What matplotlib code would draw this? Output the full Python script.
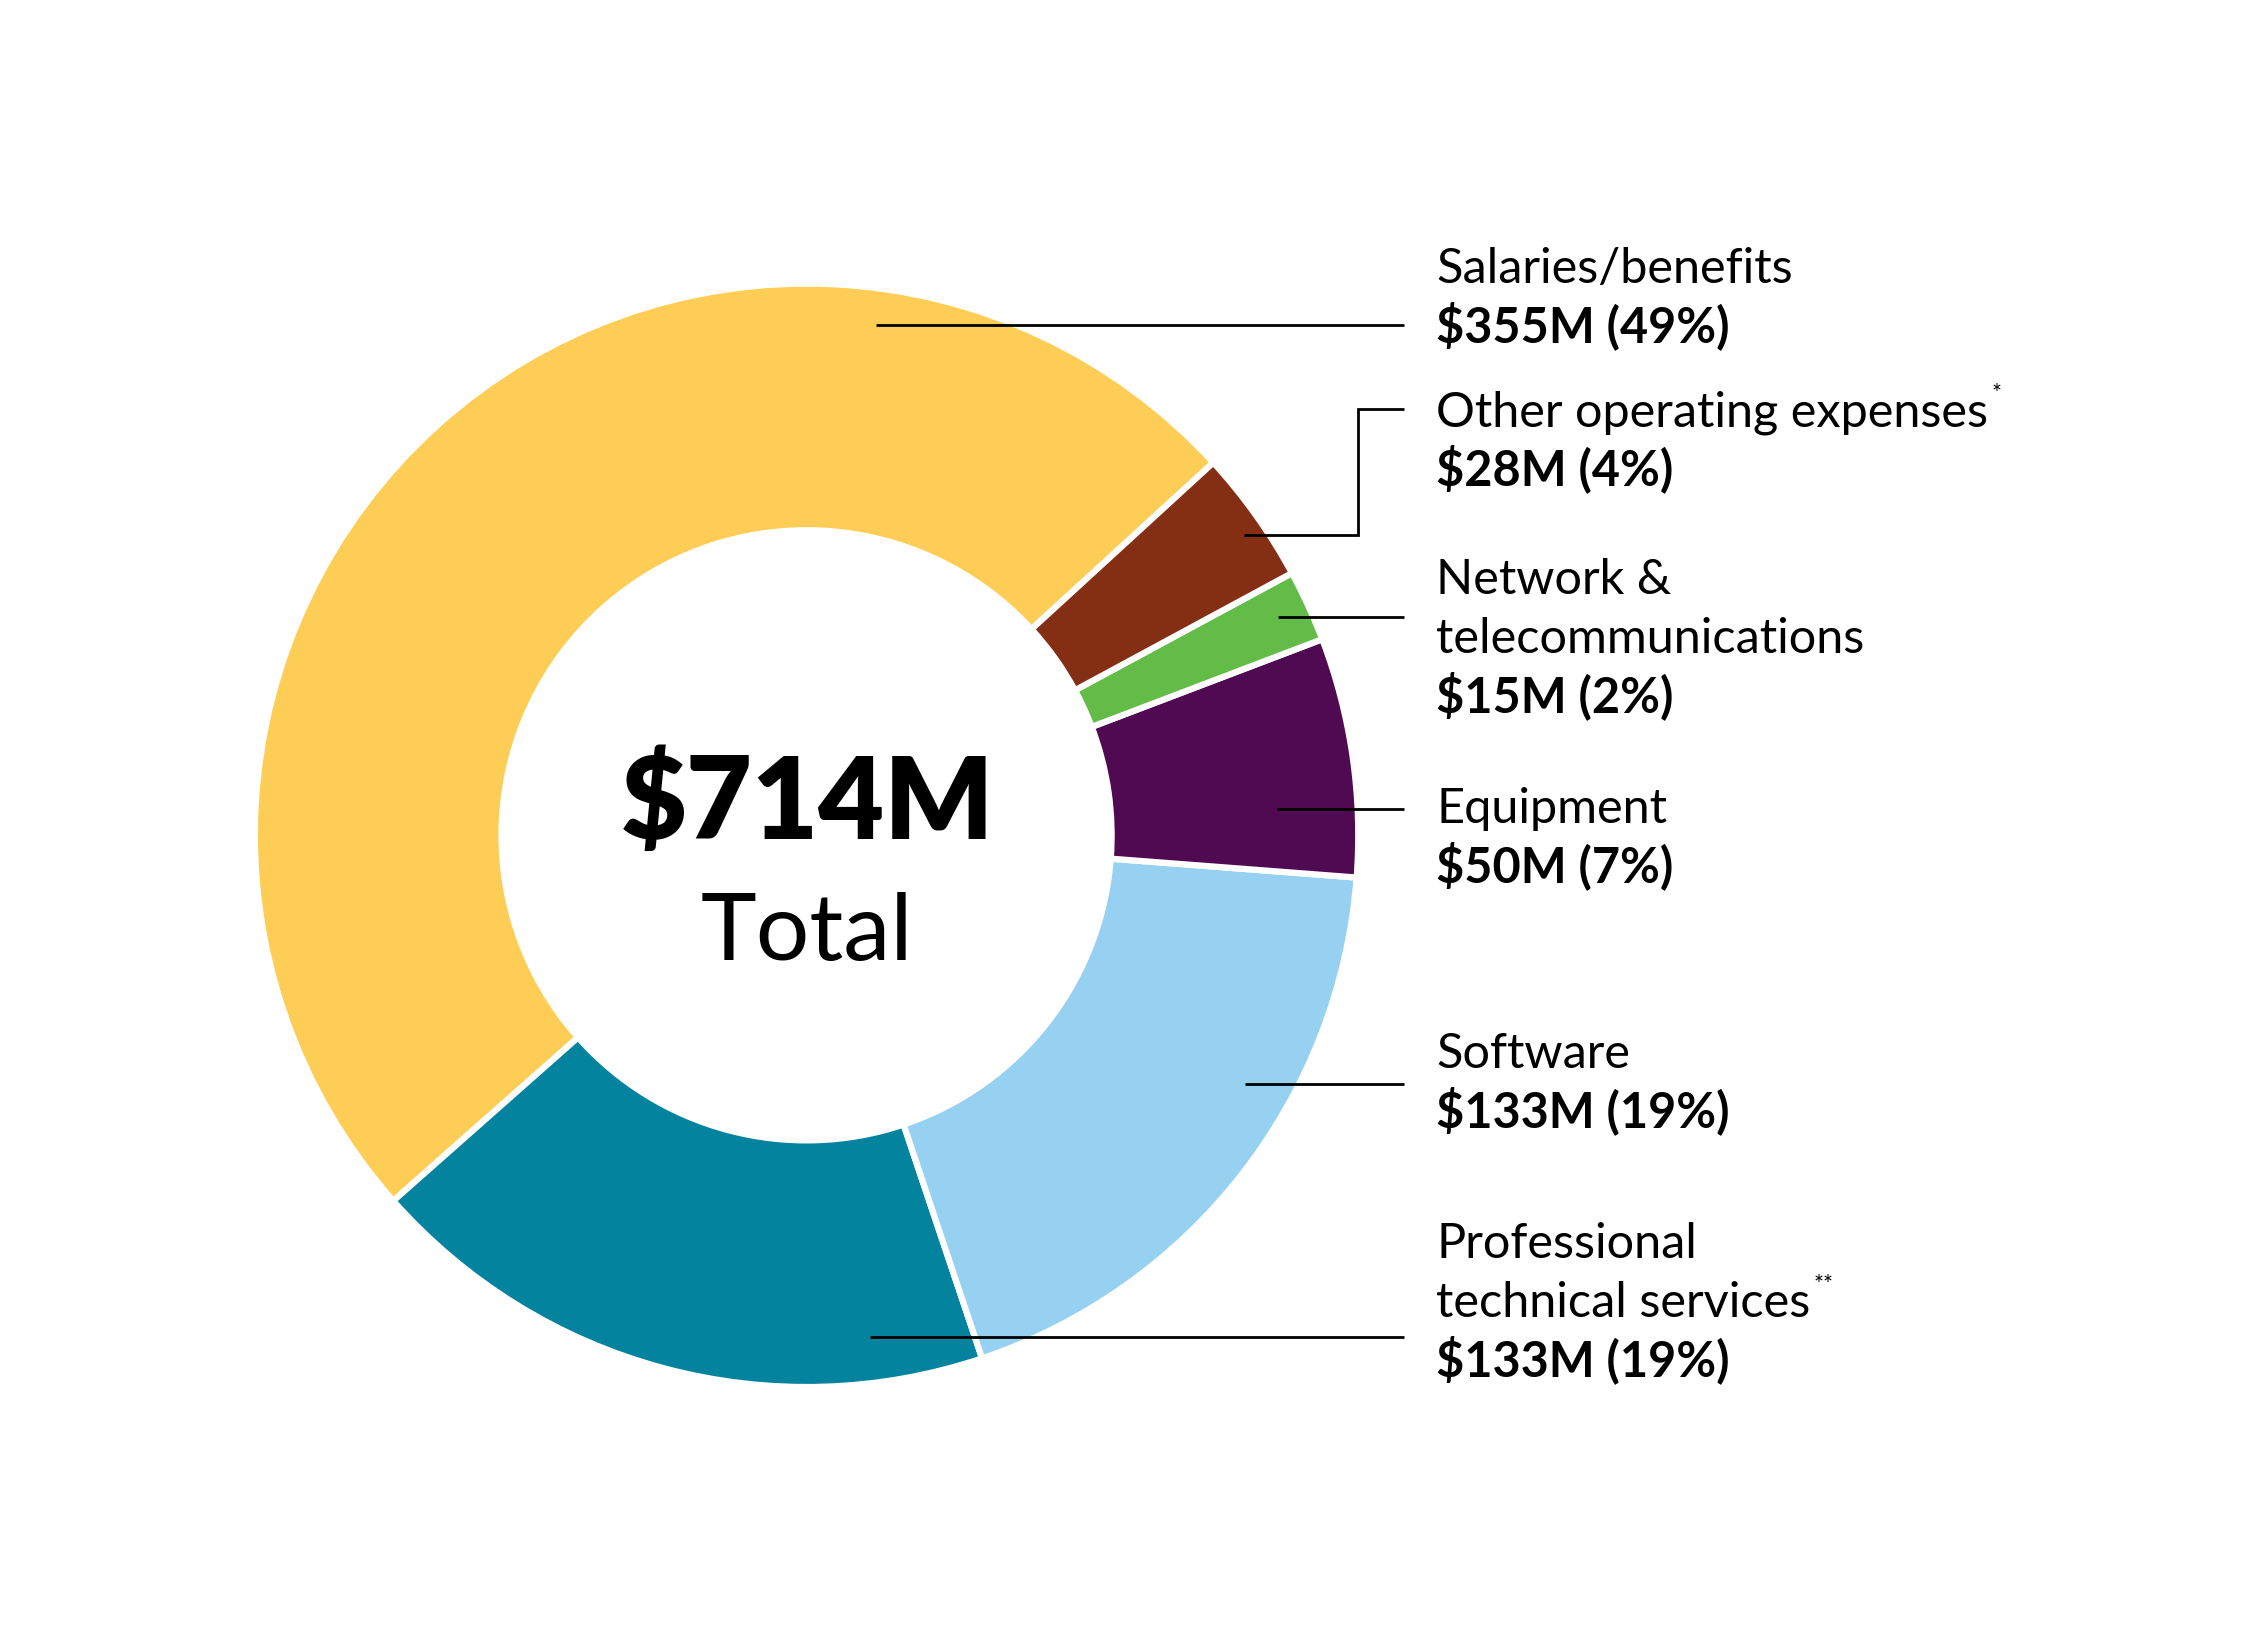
import matplotlib.pyplot as plt

plt.rcParams['font.family'] = ['Lato', 'DejaVu Sans']

# data, counter-clockwise from the top-right boundary
categories = ["Salaries/benefits", "Professional\ntechnical services", "Software",
              "Equipment", "Network &\ntelecommunications", "Other operating expenses"]
values = [355, 133, 133, 50, 15, 28]
shares = [49, 19, 19, 7, 2, 4]
notes = ["", "**", "", "", "", "*"]
colors = ["#FDCD55", "#03839E", "#97D1F2", "#500A52", "#63BC47", "#842E14"]
total = 714

# layout in a 1553 x 1124 coordinate frame (y measured from the top)
W, H = 1553, 1124.3
cx, cy, r_out, r_in = 552.5, 572.3, 378, 209
text_x = 984
line_gap = 40.5
first_baseline = [194, 862, 732, 564, 407, 292]
leaders = [
    [(600, 222.6), (962, 222.6)],
    [(596, 916), (962, 916)],
    [(853, 743), (962, 743)],
    [(875, 554), (962, 554)],
    [(875.6, 423), (962, 423)],
    [(852, 366.5), (930, 366.5), (930, 280), (962, 280)],
]

fig = plt.figure(figsize=(22.67, 16.41), dpi=100)
ax = fig.add_axes([0, 0, 1, 1])
ax.axis('off')

ax.pie(values, colors=colors, startangle=42.5, counterclock=True,
       radius=r_out, center=(cx, H - cy),
       wedgeprops=dict(width=r_out - r_in, edgecolor='white', linewidth=4.5))
ax.set_xlim(0, W)
ax.set_ylim(0, H)
ax.set_aspect('equal')

ax.text(cx + 1, H - 574.7, f"${total}M", ha='center', va='baseline',
        fontsize=82, fontweight='heavy', color='black')
ax.text(cx, H - 658, "Total", ha='center', va='baseline',
        fontsize=68, color='black')

fig.canvas.draw()
renderer = fig.canvas.get_renderer()

for cat, v, p, note, y0, path in zip(categories, values, shares, notes,
                                      first_baseline, leaders):
    lines = cat.split("\n")
    last = None
    for i, ln in enumerate(lines):
        last = ax.text(text_x, H - (y0 + i * line_gap), ln, ha='left',
                       va='baseline', fontsize=35, color='black')
    ax.text(text_x, H - (y0 + len(lines) * line_gap), f"${v}M ({p}%)",
            ha='left', va='baseline', fontsize=35, fontweight='bold',
            color='black')
    if note:
        bb = last.get_window_extent(renderer).transformed(ax.transData.inverted())
        ax.text(bb.x1 + 2, H - (y0 + (len(lines) - 1) * line_gap) + 18, note,
                ha='left', va='baseline', fontsize=17, color='black')
    xs = [pt[0] for pt in path]
    ys = [H - pt[1] for pt in path]
    ax.plot(xs, ys, color='black', linewidth=2, solid_capstyle='butt',
            solid_joinstyle='miter')

fig.savefig("out.png", dpi=100, facecolor='white')
